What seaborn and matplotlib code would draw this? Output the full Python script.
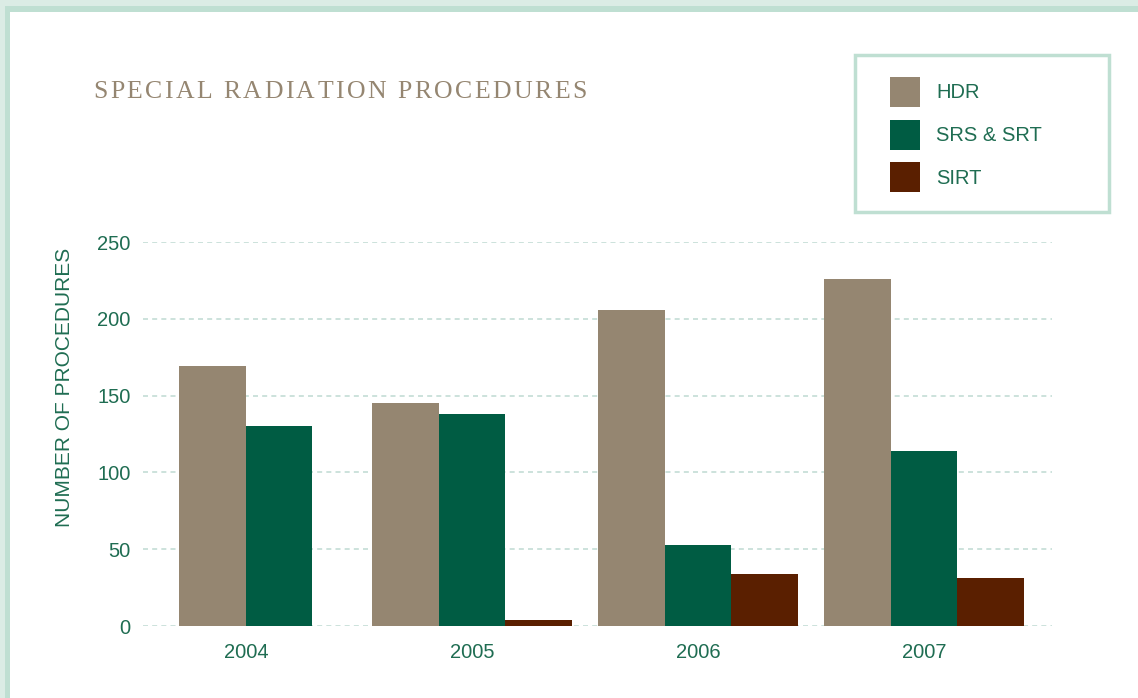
import matplotlib
matplotlib.use("Agg")
import matplotlib.pyplot as plt
from matplotlib.patches import Rectangle, Patch
import seaborn as sns
import pandas as pd

# ---- data ----
years = ["2004", "2005", "2006", "2007"]
procedures = ["HDR", "SRS & SRT", "SIRT"]
hdr = [169, 145, 206, 226]
srs_srt = [130, 138, 53, 114]
sirt = [0, 4, 34, 31]
yticks = [0, 50, 100, 150, 200, 250]
title = "SPECIAL RADIATION PROCEDURES"
ylabel = "NUMBER OF PROCEDURES"

colors = ["#958671", "#005c43", "#5a1f00"]
text_green = "#1f6d52"
grid_col = "#c3ddd5"

df = pd.DataFrame({
    "year": years * 3,
    "procedure": [p for p in procedures for _ in years],
    "value": hdr + srs_srt + sirt,
})

sns.set_theme(style="white")
plt.rcParams["font.family"] = ["Liberation Sans", "DejaVu Sans"]

W, H = 1138, 698
fig = plt.figure(figsize=(W / 100, H / 100), dpi=100)
fig.patch.set_facecolor("#dbece5")

def px(x0, y0, x1, y1):
    return (x0 / W, 1 - y1 / H, (x1 - x0) / W, (y1 - y0) / H)

l, b, w, h = px(5, 6, W + 20, H + 20)
fig.patches.append(Rectangle((l, b), w, h, transform=fig.transFigure,
                             facecolor="#bfdfd2", edgecolor="none", zorder=-3))
l, b, w, h = px(10, 12, W + 20, H + 20)
fig.patches.append(Rectangle((l, b), w, h, transform=fig.transFigure,
                             facecolor="white", edgecolor="none", zorder=-2))

ax = fig.add_axes(px(143, 242, 1052, 626))
ax.set_facecolor("none")

bar_w = 0.883
sns.barplot(data=df, x="year", y="value", hue="procedure", order=years,
            hue_order=procedures, palette=colors, width=bar_w, gap=0,
            saturation=1, legend=False, ax=ax, zorder=3, edgecolor="none",
            linewidth=0)

# 2004 has only two series: center those two bars on the category
for cont in ax.containers:
    p = cont.patches[0]
    p.set_x(p.get_x() + p.get_width() / 2)

ax.set_ylim(0, 250)
ax.set_xlim(-0.455, 3.567)
ax.set_yticks(yticks)
ax.set_yticklabels([str(t) for t in yticks])
for y in yticks:
    ax.axhline(y, color=grid_col, lw=1.2, ls=(0, (3, 2.5)), zorder=1)
for s in ax.spines.values():
    s.set_visible(False)
ax.tick_params(axis="both", length=0, labelsize=14.5, labelcolor=text_green)
ax.tick_params(axis="y", pad=9)
ax.tick_params(axis="x", pad=12)
ax.set_xlabel("")
ax.set_ylabel("")

fig.text(65 / W, 1 - 387 / H, ylabel, rotation=90, fontsize=15,
         color=text_green, ha="center", va="center")

# title with letter spacing
renderer = fig.canvas.get_renderer()
x = 93.0
tracking = 2.45
for ch in title:
    t = fig.text(x / W, 1 - 90 / H, ch,
                 family=["Liberation Serif", "DejaVu Serif"], fontsize=18.5,
                 color="#958671", va="center_baseline", ha="left")
    if ch == " ":
        wpx = 18.5 * 100 / 72 * 0.25
    else:
        wpx = t.get_window_extent(renderer).width
    x += wpx + tracking

# legend box
l, b, w, h = px(855, 55, 1109, 212)
fig.patches.append(Rectangle((l, b), w, h, transform=fig.transFigure,
                             facecolor="white", edgecolor="#bfdfd2", lw=2.5, zorder=5))
handles = [Patch(facecolor=c, edgecolor="none") for c in colors]
leg = fig.legend(handles, procedures, loc="upper left",
                 bbox_to_anchor=(890 / W, 1 - 77 / H), frameon=False,
                 fontsize=14.5, labelcolor=text_green, handlelength=1.5,
                 handleheight=1.915, handletextpad=0.8, labelspacing=0.63,
                 borderpad=0, borderaxespad=0)
leg.set_zorder(6)

fig.savefig("out.png", dpi=100)
